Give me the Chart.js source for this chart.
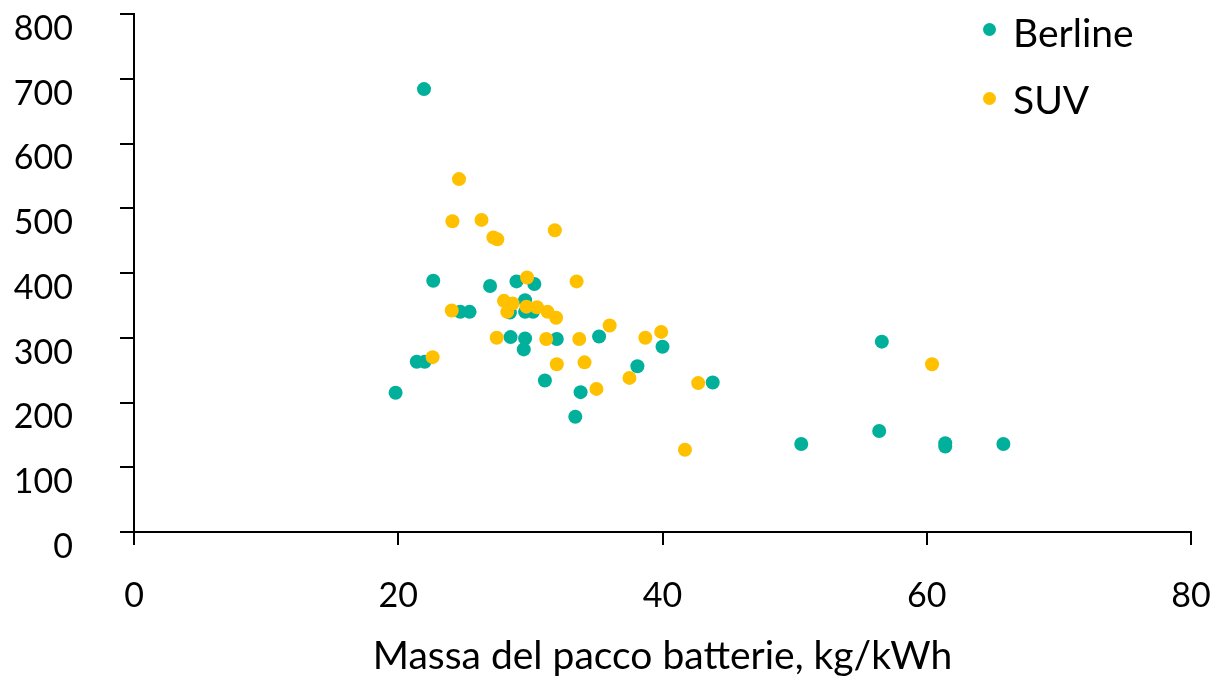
<!DOCTYPE html>
<html>
<head>
<meta charset="utf-8">
<script src="https://cdn.jsdelivr.net/npm/chart.js@4"></script>
<style>
  body { margin: 0; background: #fff; }
  #wrap { position: relative; width: 1224px; height: 684px; }
  canvas { position: absolute; left: 0; top: 0; }
  .dot { position: absolute; width: 13px; height: 13px; border-radius: 50%; }
  .lbl { position: absolute; font-family: Lato, sans-serif; font-size: 39px; color: #000; line-height: 1; white-space: nowrap; }
</style>
</head>
<body>
<div id="wrap">
  <canvas id="c" width="1224" height="684"></canvas>
  <div class="dot" style="left:983px;top:23px;background:#00B09B"></div>
  <div class="lbl" style="left:1013px;top:13px">Berline</div>
  <div class="dot" style="left:983px;top:92px;background:#FFC000"></div>
  <div class="lbl" style="left:1013px;top:80px">SUV</div>
</div>
<script>
const seriesNames = ["Berline", "SUV"];
const berlineX = [21.95, 19.8, 21.4, 22.0, 22.65, 24.7, 25.4, 26.95, 28.5, 28.95, 30.3, 29.6, 28.45, 29.6, 30.2, 29.6, 29.5, 32.0, 35.2, 40.0, 38.1, 31.1, 33.8, 33.4, 43.8, 56.6, 50.5, 56.4, 61.4, 61.4, 65.8];
const berlineY = [684, 215, 263, 263, 388, 340, 340, 380, 301, 387, 383, 358, 339, 340, 340, 299, 282, 298, 302, 286, 256, 234, 216, 178, 231, 294, 136, 156, 137, 132, 136];
const suvX = [24.6, 24.1, 26.3, 27.2, 27.5, 31.85, 29.75, 33.5, 28.0, 28.65, 28.25, 29.7, 30.5, 31.3, 31.95, 24.05, 36.0, 39.9, 38.7, 27.45, 31.2, 33.7, 22.6, 32.0, 34.1, 37.5, 35.0, 42.7, 41.7, 60.4];
const suvY = [545, 480, 482, 455, 452, 466, 393, 387, 357, 353, 340, 348, 347, 340, 331, 342, 319, 309, 300, 300, 298, 298, 270, 259, 262, 238, 221, 230, 127, 259];
const xTitle = "Massa del pacco batterie, kg/kWh";

const toPoints = (xs, ys) => xs.map((x, i) => ({ x: x, y: ys[i] }));

new Chart(document.getElementById('c'), {
  type: 'scatter',
  data: {
    datasets: [
      { label: seriesNames[0], data: toPoints(berlineX, berlineY), backgroundColor: '#00B09B', borderWidth: 0, pointRadius: 7, pointHoverRadius: 7, order: 1 },
      { label: seriesNames[1], data: toPoints(suvX, suvY), backgroundColor: '#FFC000', borderWidth: 0, pointRadius: 7, pointHoverRadius: 7, order: 0 }
    ]
  },
  options: {
    responsive: false,
    animation: false,
    layout: { padding: { top: 14, right: 33, left: 0, bottom: 0 } },
    plugins: { legend: { display: false }, tooltip: { enabled: false } },
    scales: {
      x: {
        type: 'linear', min: 0, max: 80,
        ticks: { stepSize: 20, color: '#000', font: { family: 'Lato', size: 34 }, padding: 31, maxRotation: 0 },
        grid: { display: true, drawOnChartArea: false, drawTicks: true, tickLength: 13, color: '#000', lineWidth: 2 },
        border: { display: true, color: '#000', width: 2 },
        title: { display: true, text: xTitle, color: '#000', font: { family: 'Lato', size: 39 }, padding: { top: 0, bottom: 4 } },
        afterFit: s => { s.height = 152; s.paddingLeft = 0; s.paddingRight = 0; }
      },
      y: {
        type: 'linear', min: 0, max: 800,
        ticks: { stepSize: 100, color: '#000', font: { family: 'Lato', size: 34 }, padding: 47, labelOffset: 15 },
        grid: { display: true, drawOnChartArea: false, drawTicks: true, tickLength: 14, color: '#000', lineWidth: 2 },
        border: { display: true, color: '#000', width: 2 },
        afterFit: s => { s.width = 134; s.paddingTop = 0; s.paddingBottom = 0; }
      }
    }
  }
});
</script>
</body>
</html>
